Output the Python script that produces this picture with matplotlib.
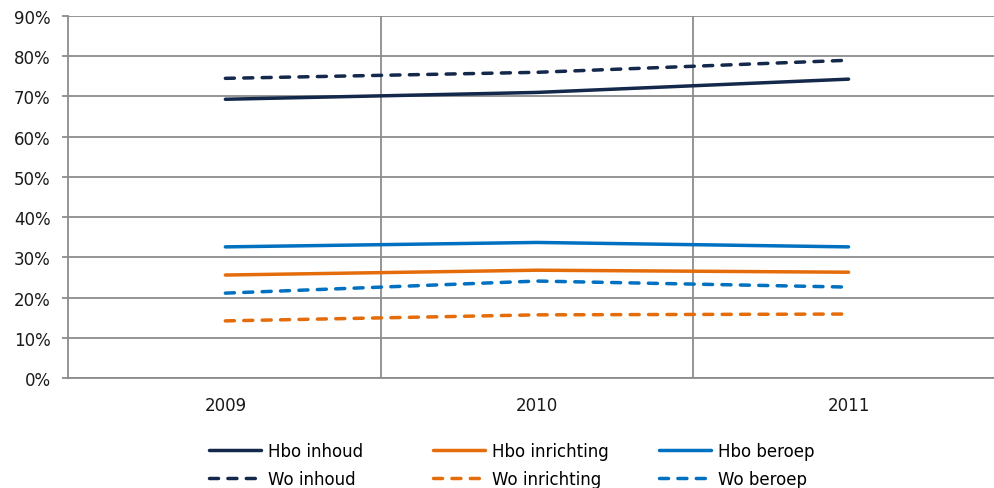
import matplotlib

matplotlib.use("Agg")

import matplotlib.pyplot as plt
from matplotlib.ticker import FuncFormatter, FixedLocator

years = ["2009", "2010", "2011"]

hbo_inhoud = [69.3, 71.0, 74.3]
wo_inhoud = [74.5, 76.0, 79.0]
hbo_inrichting = [25.6, 26.8, 26.3]
wo_inrichting = [14.2, 15.7, 15.9]
hbo_beroep = [32.6, 33.7, 32.6]
wo_beroep = [21.1, 24.1, 22.6]

NAVY = "#13284A"
ORANGE = "#E46C0A"
BLUE = "#0070C0"
GRID = "#8C8C8C"

plt.rcParams["font.family"] = ["DejaVu Sans"]
plt.rcParams["font.size"] = 12

fig = plt.figure(figsize=(9.95, 4.89), dpi=100, facecolor="white")
ax = fig.add_axes([68 / 995, 1 - 379 / 489, 1 - 68 / 995, (379 - 17) / 489])

x = list(range(len(years)))
series = [
    ("Hbo inhoud", hbo_inhoud, NAVY, "-"),
    ("Wo inhoud", wo_inhoud, NAVY, "--"),
    ("Hbo inrichting", hbo_inrichting, ORANGE, "-"),
    ("Wo inrichting", wo_inrichting, ORANGE, "--"),
    ("Hbo beroep", hbo_beroep, BLUE, "-"),
    ("Wo beroep", wo_beroep, BLUE, "--"),
]

handles = []
for label, values, color, style in series:
    line, = ax.plot(x, values, color=color, linewidth=2.5, label=label,
                    solid_capstyle="round", dash_capstyle="round", zorder=3)
    if style == "--":
        line.set_dashes((2.6, 2.7))
    handles.append(line)

ax.set_xlim(-0.505, 2.47)
ax.set_ylim(0, 90)
ax.set_yticks(range(0, 91, 10))
ax.yaxis.set_major_formatter(FuncFormatter(lambda v, _: f"{v:.0f}%"))
ax.set_xticks(x)
ax.set_xticklabels(years)
ax.xaxis.set_minor_locator(FixedLocator([0.5, 1.5]))

ax.grid(axis="y", which="major", color=GRID, linewidth=1.3)
ax.grid(axis="x", which="minor", color=GRID, linewidth=1.3)
ax.set_axisbelow(True)

for side in ["top", "right"]:
    ax.spines[side].set_visible(False)
for side in ["left", "bottom"]:
    ax.spines[side].set_color(GRID)
    ax.spines[side].set_linewidth(1.3)

ax.tick_params(axis="y", length=4.5, width=1.3, color=GRID, pad=8, labelsize=12, labelcolor="#1a1a1a")
ax.tick_params(axis="x", which="major", length=0, pad=13, labelsize=12, labelcolor="#1a1a1a")
ax.tick_params(axis="x", which="minor", length=0)

# Excel-style legend: three columns at fixed positions
legend_left = [209, 433, 659]
for col, left in enumerate(legend_left):
    fig.legend(
        handles[2 * col:2 * col + 2],
        [h.get_label() for h in handles[2 * col:2 * col + 2]],
        loc="center left",
        bbox_to_anchor=(left / 995, 1 - 466 / 489),
        frameon=False,
        fontsize=12,
        handlelength=3.1,
        handletextpad=0.45,
        labelspacing=0.58,
        borderpad=0,
        borderaxespad=0,
    )

fig.savefig("out.png", dpi=100, facecolor="white")
plt.close(fig)
